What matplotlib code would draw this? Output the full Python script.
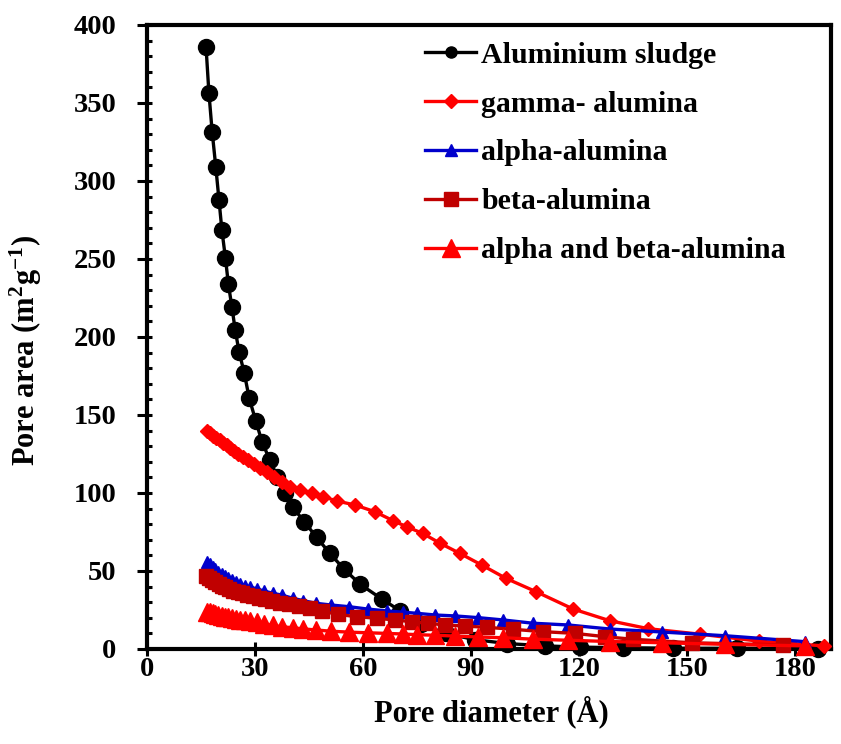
import matplotlib
matplotlib.use("Agg")
import matplotlib.pyplot as plt
from matplotlib.ticker import MultipleLocator

plt.rcParams['font.family'] = ['Liberation Serif', 'DejaVu Serif']
plt.rcParams['font.weight'] = 'bold'
plt.rcParams['mathtext.fontset'] = 'custom'
plt.rcParams['mathtext.rm'] = 'Liberation Serif:bold'
plt.rcParams['mathtext.it'] = 'Liberation Serif:bold'
plt.rcParams['mathtext.bf'] = 'Liberation Serif:bold'

# Aluminium sludge
sludge_x = [16.4, 17.2, 18.1, 19.1, 20.0, 20.8, 21.8, 22.6, 23.6, 24.5, 25.6, 27.0, 28.4, 30.2,
            32.0, 34.1, 36.2, 38.3, 40.5, 43.7, 47.1, 50.8, 54.7, 59.2, 65.2, 70.3, 76.0, 83.0,
            91.0, 100.0, 110.6, 120.3, 132.2, 146.1, 163.9, 186.4]
sludge_y = [385.9, 356.4, 331.6, 309.2, 287.8, 268.6, 250.4, 233.9, 219.0, 204.5, 190.2, 177.1,
            160.7, 146.3, 132.5, 121.2, 110.4, 99.8, 90.8, 81.6, 71.6, 61.3, 51.3, 41.5, 32.1,
            24.5, 16.0, 10.0, 6.0, 3.5, 2.0, 1.2, 0.8, 0.5, 0.4, 0.3]

# gamma-alumina
gamma_x = [16.7, 17.5, 18.4, 19.3, 20.2, 21.1, 22.1, 23.1, 24.2, 25.4, 26.7, 28.1, 29.6, 31.3,
           33.2, 35.3, 37.5, 39.7, 42.5, 45.7, 49.0, 52.7, 57.8, 63.3, 68.4, 72.1, 76.6, 81.4,
           86.9, 93.0, 99.7, 108.1, 118.4, 128.6, 139.3, 153.6, 170.0, 188.0]
gamma_y = [139.7, 138.3, 136.8, 135.3, 133.8, 132.3, 130.6, 128.9, 127.0, 125.0, 123.0, 121.0,
           118.8, 116.3, 113.5, 110.5, 107.3, 104.0, 101.9, 99.8, 97.6, 94.9, 92.3, 88.0, 82.2,
           78.4, 74.1, 67.8, 61.3, 53.8, 45.3, 36.7, 25.6, 18.1, 13.0, 9.5, 5.0, 2.0]

# alpha-alumina and alpha and beta-alumina (shared diameters)
alpha_x = [16.7, 17.4, 18.2, 19.0, 19.8, 20.7, 21.6, 22.6, 23.6, 24.7, 25.9, 27.2, 28.6, 30.5,
           32.5, 34.9, 37.4, 40.5, 43.4, 46.9, 51.1, 56.2, 61.3, 66.6, 71.2, 74.9, 80.0, 85.6,
           92.0, 99.0, 107.3, 117.0, 128.6, 143.0, 160.6, 182.8]
alpha_y = [55.8, 54.3, 52.6, 51.0, 49.6, 48.2, 46.9, 45.6, 44.3, 43.0, 41.8, 40.7, 39.8, 38.5,
           37.2, 35.7, 34.6, 32.5, 31.0, 29.3, 28.2, 27.1, 25.6, 24.4, 23.6, 22.9, 21.8, 21.2,
           20.1, 18.6, 16.5, 15.4, 12.8, 10.9, 8.5, 4.7]
ab_y = [24.0, 23.4, 22.8, 22.2, 21.7, 21.2, 20.7, 20.2, 19.8, 19.3, 18.9, 18.4, 17.9, 17.0,
        16.1, 15.1, 14.3, 13.6, 12.9, 12.2, 11.4, 10.8, 10.4, 10.0, 9.6, 9.2, 8.8, 8.3,
        7.7, 7.2, 6.3, 5.6, 4.8, 4.0, 3.0, 2.0]

# beta-alumina
beta_x = [16.5, 17.3, 18.1, 19.0, 19.9, 20.8, 21.8, 22.9, 24.0, 25.2, 26.5, 27.9, 29.4, 31.0,
          32.8, 34.8, 37.0, 39.5, 42.2, 45.2, 48.5, 53.1, 58.2, 63.8, 68.9, 73.5, 78.1, 82.8,
          88.3, 94.4, 101.8, 110.1, 118.9, 127.2, 135.1, 151.3, 176.8]
beta_y = [46.5, 45.2, 44.0, 42.8, 41.7, 40.7, 39.6, 38.5, 37.5, 36.6, 35.7, 34.8, 33.9, 33.0,
          32.0, 31.0, 29.8, 28.6, 27.3, 26.0, 24.3, 22.2, 20.7, 19.7, 18.6, 17.5, 16.5, 15.4,
          14.7, 13.9, 12.6, 11.1, 10.0, 7.9, 6.2, 4.0, 2.6]

labels = ['Aluminium sludge', 'gamma- alumina', 'alpha-alumina', 'beta-alumina',
          'alpha and beta-alumina']

fig = plt.figure(figsize=(8.41, 7.44), dpi=100)
ax = fig.add_axes([147 / 841, 95 / 744, 684 / 841, 624 / 744])

ax.plot(sludge_x, sludge_y, color='black', marker='o', ms=11.5, lw=2.4, label=labels[0],
        clip_on=False, zorder=3)
ax.plot(gamma_x, gamma_y, color='#FF0000', marker='D', ms=7.5, lw=2.4, label=labels[1],
        clip_on=False, zorder=4)
ax.plot(alpha_x, alpha_y, color='#0000CC', marker='^', ms=8.5, lw=2.4, label=labels[2],
        clip_on=False, zorder=5)
ax.plot(beta_x, beta_y, color='#C00000', marker='s', ms=9.5, lw=2.4, label=labels[3],
        clip_on=False, zorder=6)
ax.plot(alpha_x, ab_y, color='#FF0000', marker='^', ms=13, lw=2.4, label=labels[4],
        clip_on=False, zorder=7)

ax.set_xlim(0, 190)
ax.set_ylim(0, 400)
ax.xaxis.set_major_locator(MultipleLocator(30))
ax.yaxis.set_major_locator(MultipleLocator(50))
ax.yaxis.set_minor_locator(MultipleLocator(10))
ax.yaxis.remove_overlapping_locs = False
ax.tick_params(axis='y', which='major', direction='out', length=7, width=2.2,
               labelsize=20.5, pad=15)
ax.tick_params(axis='y', which='minor', direction='in', length=3.6, width=2.2)
ax.tick_params(axis='x', which='major', direction='inout', length=10, width=2.2,
               labelsize=20.5, pad=1)
for s in ax.spines.values():
    s.set_linewidth(3)

ax.set_xlabel('Pore diameter (Å)', fontsize=22, fontweight='bold')
ax.xaxis.set_label_coords(0.504, -0.074)
ax.set_ylabel(r'Pore area (m$^{2}$g$^{-1}$)', fontsize=22, fontweight='bold')
ax.yaxis.set_label_coords(-0.151, 0.479)

leg = ax.legend(loc='upper left', bbox_to_anchor=(0.407, 0.973), frameon=False,
                fontsize=21.5, handlelength=1.7, handletextpad=0.17, labelspacing=0.73,
                borderaxespad=0, borderpad=0)
leg.legend_handles[0].set_markersize(8)

fig.savefig('out.png', dpi=100)
